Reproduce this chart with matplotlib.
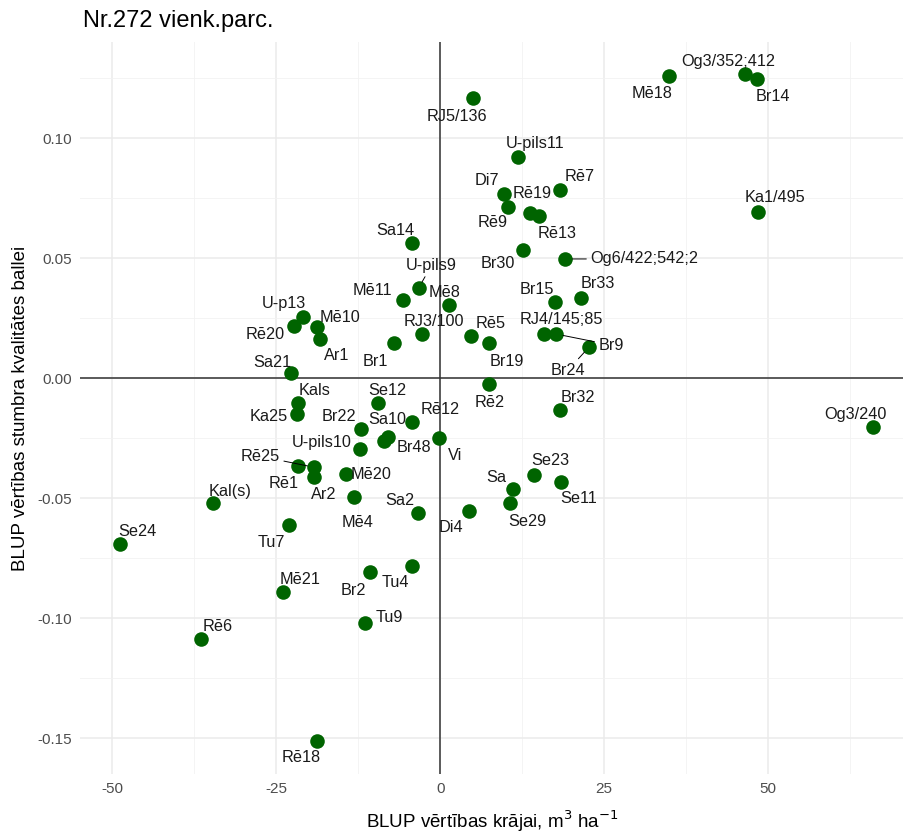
import numpy as np
import matplotlib.pyplot as plt
from matplotlib.ticker import MultipleLocator

plt.rcParams['font.family'] = ['Liberation Sans', 'DejaVu Sans']
plt.rcParams['axes.unicode_minus'] = False

# clone names, BLUP for volume (x) and stem quality (y)
names = ['RJ5/136', 'Mē18', 'Og3/352;412', 'Br14', 'U-pils11', 'Di7', 'Rē9', 'Rē19',
         'Rē13', 'Rē7', 'Ka1/495', 'Br30', 'Og6/422;542;2', 'Br15', 'Br33', 'RJ4/145;85',
         'Br9', 'Br24', 'Sa14', 'U-pils9', 'Mē11', 'Mē8', 'RJ3/100', 'Br1', 'Rē5', 'Br19',
         'U-p13', 'Rē20', 'Mē10', 'Ar1', 'Sa21', 'Rē2', 'Kals', 'Ka25', 'Se12', 'Br22',
         'Rē12', 'Sa10', 'Br48', 'Vi', 'U-pils10', 'Rē25', 'Rē1', 'Ar2', 'Mē20', 'Mē4',
         'Kal(s)', 'Se24', 'Tu7', 'Sa2', 'Di4', 'Mē21', 'Br2', 'Tu4', 'Rē6', 'Tu9', 'Rē18',
         'Br32', 'Og3/240', 'Se23', 'Se11', 'Sa', 'Se29']
blup_vol = [5.0, 34.9, 46.5, 48.3, 11.8, 9.8, 10.4, 13.7,
            15.1, 18.2, 48.5, 12.7, 19.1, 17.5, 21.4, 15.9,
            17.7, 22.7, -4.3, -3.3, -5.7, 1.4, -2.7, -7.1, 4.7, 7.5,
            -20.9, -22.3, -18.7, -18.3, -22.8, 7.5, -21.6, -21.8, -9.5, -12.0,
            -4.3, -8.6, -7.9, -0.2, -12.2, -19.2, -21.6, -19.2, -14.3, -13.1,
            -34.6, -48.8, -23.0, -3.4, 4.4, -24.0, -10.7, -4.3, -36.5, -11.4, -18.7,
            18.2, 66.0, 14.3, 18.4, 11.1, 10.7]
blup_qual = [0.1167, 0.1260, 0.1267, 0.1246, 0.0922, 0.0767, 0.0714, 0.0686,
             0.0675, 0.0783, 0.0693, 0.0533, 0.0496, 0.0315, 0.0335, 0.0183,
             0.0183, 0.0129, 0.0561, 0.0374, 0.0325, 0.0304, 0.0183, 0.0145, 0.0175, 0.0145,
             0.0256, 0.0217, 0.0211, 0.0163, 0.0020, -0.0025, -0.0106, -0.0151, -0.0106, -0.0214,
             -0.0185, -0.0262, -0.0244, -0.0251, -0.0296, -0.0372, -0.0367, -0.0411, -0.0401, -0.0494,
             -0.0522, -0.0692, -0.0613, -0.0564, -0.0556, -0.0892, -0.0810, -0.0783, -0.1089, -0.1022, -0.1511,
             -0.0135, -0.0206, -0.0404, -0.0432, -0.0464, -0.0522]

# label offsets in pixels (right, down) and whether a leader line is drawn
label_dx = [-16, -17, -17, 16, 17, -18, -16, 2,
            18, 20, 17, -26, 79, -18, 17, 17,
            55, -21, -17, 13, -30, -5, 11, -18, 20, 17,
            -19, -29, 23, 17, -18, 0, 16, -28, 9, -23,
            28, 4, 26, 16, -38, -54, -15, 10, 25, 3,
            17, 17, -18, -18, -18, 17, -17, -17, 17, 24, -16,
            18, -18, 16, 18, -17, 17]
label_dy = [19, 18, -12, 18, -13, -13, 16, -20,
            17, -14, -14, 13, 0, -13, -14, -15,
            11, 23, -13, -23, -10, -13, -13, 18, -13, 18,
            -13, 9, -10, 17, -11, 18, -13, 2, -13, -13,
            -13, -21, 11, 17, -7, -11, 17, 18, 0, 26,
            -12, -13, 17, -13, 16, -13, 18, 17, -13, -6, 17,
            -13, -13, -14, 17, -12, 18]
with_line = {'Og6/422;542;2', 'Br9', 'Br24', 'U-pils9', 'Rē25'}

fig = plt.figure(figsize=(9.04, 8.36), dpi=100)
ax = fig.add_axes([80/904, 1-774/836, 824/904, (774-42)/836])

ax.set_xlim(-54.9, 70.7)
ax.set_ylim(-0.165, 0.140)
ax.xaxis.set_major_locator(MultipleLocator(25))
ax.xaxis.set_minor_locator(MultipleLocator(12.5))
ax.yaxis.set_major_locator(MultipleLocator(0.05))
ax.yaxis.set_minor_locator(MultipleLocator(0.025))
ax.grid(which='major', color='#ebebeb', lw=1.1)
ax.grid(which='minor', color='#f2f2f2', lw=0.6)
ax.set_axisbelow(True)
for s in ax.spines.values():
    s.set_visible(False)
ax.tick_params(which='both', length=0, labelsize=11, labelcolor='#4d4d4d', pad=6)
ax.yaxis.set_major_formatter(plt.FuncFormatter(lambda v, p: f'{v:.2f}'))

ax.axhline(0, color='#333333', lw=1.1, zorder=1)
ax.axvline(0, color='#333333', lw=1.1, zorder=1)

ax.scatter(blup_vol, blup_qual, s=110, color='#006400', zorder=3, linewidths=0)

for n, x, y, dx, dy in zip(names, blup_vol, blup_qual, label_dx, label_dy):
    arrow = None
    if n in with_line:
        arrow = dict(arrowstyle='-', color='black', lw=0.7, shrinkA=1, shrinkB=5)
    ax.annotate(n, (x, y), xytext=(dx, -dy), textcoords='offset pixels',
                ha='center', va='center', fontsize=11.7, color='#1a1a1a',
                arrowprops=arrow, zorder=4)

ax.set_xlabel('BLUP vērtības krājai, m$^3$ ha$^{-1}$', fontsize=13.5, labelpad=9)
ax.set_ylabel('BLUP vērtības stumbra kvalitātes ballei', fontsize=13.5, labelpad=6)
fig.text(83/904, 1-21/836, 'Nr.272 vienk.parc.', fontsize=17, ha='left', va='center')

fig.savefig('out.png', dpi=100)
